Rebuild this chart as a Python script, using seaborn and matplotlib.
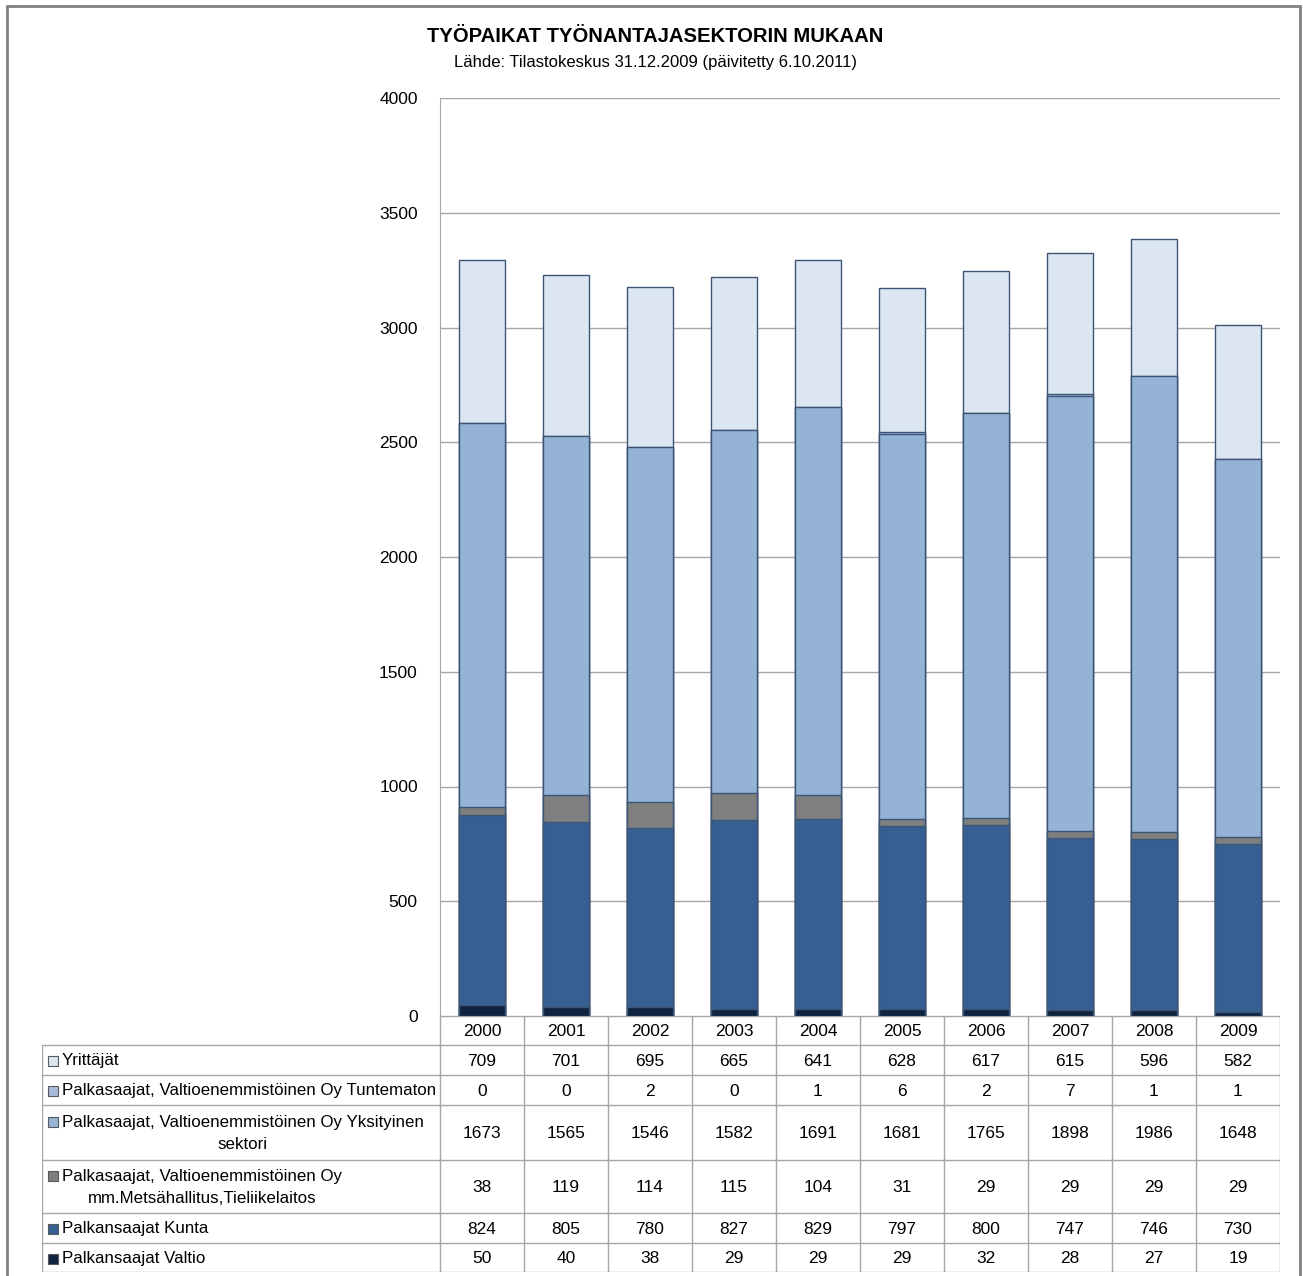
import numpy as np
import pandas as pd
import matplotlib
matplotlib.use("Agg")
import matplotlib.pyplot as plt
import seaborn as sns
from matplotlib.patches import Rectangle
from matplotlib.lines import Line2D

years = ["2000", "2001", "2002", "2003", "2004", "2005", "2006", "2007", "2008", "2009"]
yrittajat = [709, 701, 695, 665, 641, 628, 617, 615, 596, 582]
tuntematon = [0, 0, 2, 0, 1, 6, 2, 7, 1, 1]
yksityinen = [1673, 1565, 1546, 1582, 1691, 1681, 1765, 1898, 1986, 1648]
metsahallitus = [38, 119, 114, 115, 104, 31, 29, 29, 29, 29]
kunta = [824, 805, 780, 827, 829, 797, 800, 747, 746, 730]
valtio = [50, 40, 38, 29, 29, 29, 32, 28, 27, 19]

# top of the table first, same order as in the picture
labels = ["Yrittäjät",
          "Palkasaajat, Valtioenemmistöinen Oy Tuntematon",
          "Palkasaajat, Valtioenemmistöinen Oy Yksityinen\nsektori",
          "Palkasaajat, Valtioenemmistöinen Oy\nmm.Metsähallitus,Tieliikelaitos",
          "Palkansaajat Kunta",
          "Palkansaajat Valtio"]
series = [yrittajat, tuntematon, yksityinen, metsahallitus, kunta, valtio]
colors = ["#dce6f2", "#a7b9dc", "#95b3d7", "#7f7f7f", "#376092", "#10243f"]

df = pd.DataFrame({lab: vals for lab, vals in zip(labels, series)}, index=years)

sns.set_style("white")
plt.rcParams["font.family"] = ["Liberation Sans", "DejaVu Sans"]
plt.rcParams["text.color"] = "black"
plt.rcParams["ytick.color"] = "black"

W, H = 1303, 1276
fig = plt.figure(figsize=(W / 100, H / 100), dpi=100)

def px(x0, y0, x1, y1):
    return [x0 / W, 1 - y1 / H, (x1 - x0) / W, (y1 - y0) / H]

ax = fig.add_axes(px(440, 98, 1280, 1016))

# stacked bars: draw cumulative totals, tallest first
stack = df[labels[::-1]].cumsum(axis=1)
for lab, col in zip(labels, colors):
    d = pd.DataFrame({"year": years, "v": stack[lab].values})
    sns.barplot(data=d, x="year", y="v", color=col, width=0.55, saturation=1,
                edgecolor="#3d5575", linewidth=1.0, ax=ax)

ax.set_ylim(0, 4000)
ax.set_xlim(-0.5, 9.5)
ax.set_yticks(np.arange(0, 4001, 500))
ax.set_yticklabels([str(v) for v in range(0, 4001, 500)], fontsize=12.5)
ax.tick_params(axis="y", length=0, pad=16)
ax.set_xticks([])
ax.set_xlabel("")
ax.set_ylabel("")
ax.grid(axis="y", color="#a6a6a6", linewidth=1.0)
ax.set_axisbelow(True)
for s in ["top", "right", "bottom"]:
    ax.spines[s].set_visible(False)
ax.spines["left"].set_color("#a6a6a6")

fig.text(655 / W, 1 - 36 / H, "TYÖPAIKAT TYÖNANTAJASEKTORIN MUKAAN", ha="center",
         va="center", fontsize=14.6, fontweight="bold")
fig.text(655 / W, 1 - 62 / H, "Lähde: Tilastokeskus 31.12.2009 (päivitetty 6.10.2011)",
         ha="center", va="center", fontsize=12)

# data table under the chart
tab = fig.add_axes(px(42, 1016, 1280, 1272))
tab.set_xlim(42, 1280)
tab.set_ylim(1272, 1016)
tab.axis("off")
row_edges = [1016, 1045, 1075, 1105, 1160, 1213, 1243, 1272]
col_w = 84
gc = "#a6a6a6"
for k in range(11):
    x = 440 + k * col_w
    tab.plot([x, x], [1016, 1272], color=gc, lw=1)
tab.plot([42, 42], [1045, 1272], color=gc, lw=1)
tab.plot([440, 1280], [1016, 1016], color=gc, lw=1)
for y in row_edges[1:]:
    tab.plot([42, 1280], [y, y], color=gc, lw=1)
for k, yr in enumerate(years):
    tab.text(440 + (k + 0.5) * col_w, (row_edges[0] + row_edges[1]) / 2 + 1, yr,
             ha="center", va="center", fontsize=12.5)
for r, (lab, vals, col) in enumerate(zip(labels, series, colors)):
    y0, y1 = row_edges[r + 1], row_edges[r + 2]
    yc = (y0 + y1) / 2 + 1
    if "\n" in lab:
        tab.add_patch(Rectangle((48, yc - 17), 10, 10, facecolor=col,
                                edgecolor="#595959", lw=0.8))
        tab.text(62, yc, lab, ha="left", va="center", multialignment="center",
                 fontsize=12.2, linespacing=1.65)
    else:
        tab.add_patch(Rectangle((48, yc - 5), 10, 10, facecolor=col,
                                edgecolor="#595959", lw=0.8))
        tab.text(62, yc, lab, ha="left", va="center", fontsize=12.2)
    for k, v in enumerate(vals):
        tab.text(440 + (k + 0.5) * col_w, yc, str(v), ha="center", va="center",
                 fontsize=12.5)

# outer frame
fig.add_artist(Line2D([7 / W, 7 / W], [0, 1 - 6 / H], color="#808080", lw=2,
                      transform=fig.transFigure))
fig.add_artist(Line2D([7 / W, 1300 / W], [1 - 6 / H, 1 - 6 / H], color="#808080", lw=2,
                      transform=fig.transFigure))
fig.add_artist(Line2D([1300 / W, 1300 / W], [0, 1 - 6 / H], color="#808080", lw=2,
                      transform=fig.transFigure))

fig.savefig("out.png", dpi=100)
